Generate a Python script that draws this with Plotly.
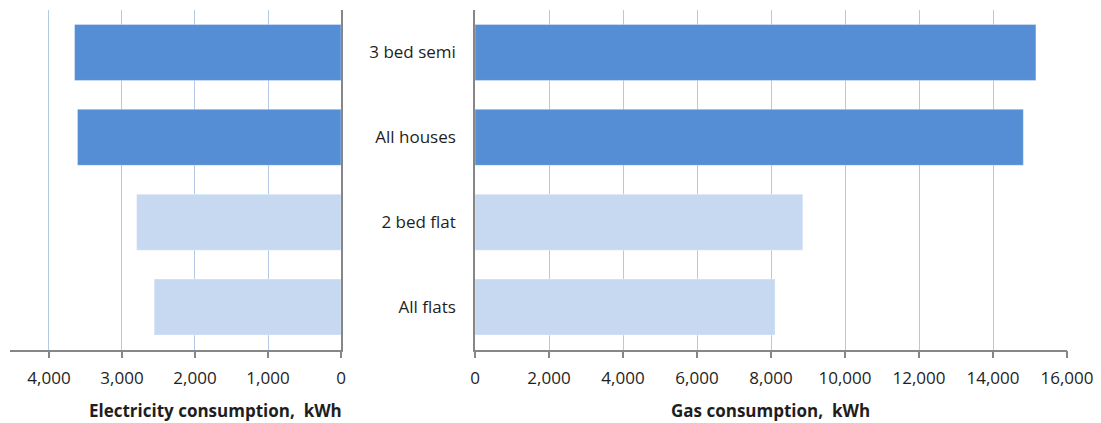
import plotly.graph_objects as go

# Dwelling types, listed top to bottom
categories = ["3 bed semi", "All houses", "2 bed flat", "All flats"]
electricity_kwh = [3650, 3610, 2800, 2560]
gas_kwh = [15160, 14820, 8860, 8110]
bar_colors = ["#558ed5", "#558ed5", "#c6d9f1", "#c6d9f1"]
elec_ticks = [0, 1000, 2000, 3000, 4000]
gas_ticks = [0, 2000, 4000, 6000, 8000, 10000, 12000, 14000, 16000]

W, H = 1101, 423
FONT = "Open Sans"
TEXT = "#1e1e1e"
GRID = "#b4c9e3"
AXIS = "#868686"

fig = go.Figure()

fig.add_trace(go.Bar(
    x=electricity_kwh, y=categories, orientation="h",
    marker=dict(color=bar_colors, line=dict(color="rgba(255,255,255,0.35)", width=1)),
    xaxis="x", yaxis="y", showlegend=False,
))
fig.add_trace(go.Bar(
    x=gas_kwh, y=categories, orientation="h",
    marker=dict(color=bar_colors, line=dict(color="rgba(255,255,255,0.35)", width=1)),
    xaxis="x2", yaxis="y2", showlegend=False,
))

y_dom = [1 - 349.5 / H, 1 - 10 / H]
common_x = dict(
    showgrid=True, gridcolor=GRID, gridwidth=1.3,
    showline=True, linecolor=AXIS, linewidth=1.5,
    ticks="outside", ticklen=7, tickcolor=AXIS, tickwidth=1.5,
    tickformat=",d", zeroline=False, automargin=False,
    ticklabelstandoff=5,
    tickfont=dict(family=FONT, size=17, color=TEXT),
)
common_y = dict(
    categoryorder="array", categoryarray=categories[::-1],
    showline=True, linecolor=AXIS, linewidth=1.5,
    showgrid=False, zeroline=False, ticks="", automargin=False,
)

fig.update_layout(
    width=W, height=H,
    margin=dict(l=0, r=0, t=0, b=0, autoexpand=False),
    paper_bgcolor="white", plot_bgcolor="white",
    bargap=0.34,
    xaxis=dict(domain=[10 / W, 341 / W], range=[4534, 0], tickvals=elec_ticks,
               anchor="y", **common_x),
    yaxis=dict(domain=y_dom, anchor="x", side="right", showticklabels=False, **common_y),
    xaxis2=dict(domain=[475 / W, 1067 / W], range=[0, 16000], tickvals=gas_ticks,
                anchor="y2", **common_x),
    yaxis2=dict(domain=y_dom, anchor="x2", side="left", showticklabels=True,
                tickfont=dict(family=FONT, size=17, color=TEXT),
                ticklabelstandoff=14, **common_y),
    annotations=[
        dict(text="<b>Electricity consumption,  kWh</b>", x=215 / W, y=1 - 410 / H,
             xref="paper", yref="paper", xanchor="center", yanchor="middle",
             showarrow=False, font=dict(family=FONT, size=17, color=TEXT)),
        dict(text="<b>Gas consumption,  kWh</b>", x=770 / W, y=1 - 410 / H,
             xref="paper", yref="paper", xanchor="center", yanchor="middle",
             showarrow=False, font=dict(family=FONT, size=17, color=TEXT)),
    ],
)

fig.write_html("out.html")
